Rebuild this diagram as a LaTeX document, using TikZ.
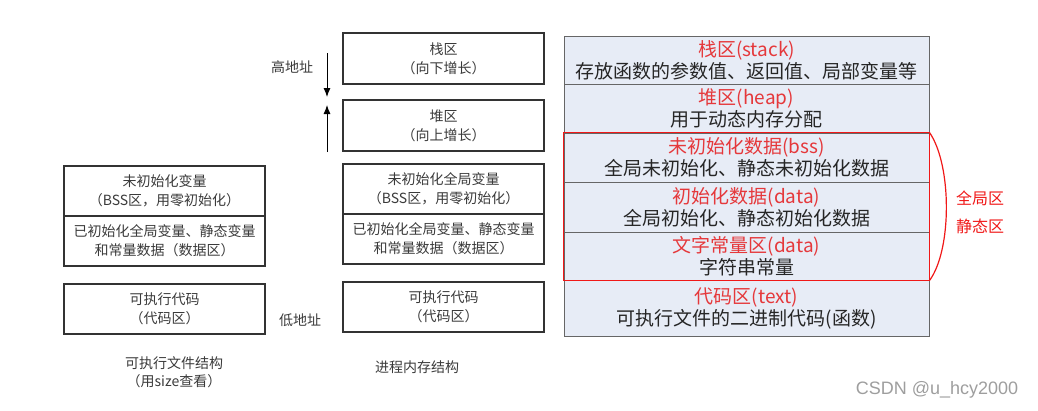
\documentclass[tikz,border=0pt]{standalone}
\usepackage{fontspec}
\setmainfont{Noto Sans CJK SC}
\newfontfamily\wmfont{Liberation Sans}
\usetikzlibrary{arrows.meta}
\definecolor{fillb}{HTML}{E7ECF6}
\definecolor{redt}{HTML}{E5383B}
\definecolor{redb}{HTML}{F01818}
\definecolor{txt}{HTML}{3A3A3A}
\tikzset{
 lbox/.style={draw=black!80, line width=1.1pt, minimum width=201pt, inner sep=0pt, align=center, text=txt, font=\fontsize{14}{19}\selectfont},
 rbox/.style={draw=black!60, line width=1pt, fill=fillb, minimum width=365pt, inner sep=0pt, align=center, font=\fontsize{19}{22}\selectfont},
 lab/.style={text=txt, font=\fontsize{14}{18}\selectfont, inner sep=0pt, align=center},
 redlab/.style={text=redb, font=\fontsize{16}{18}\selectfont, inner sep=0pt},
 growarrow/.style={black, line width=0.9pt, -{Latex[length=9pt,width=7pt]}},
}
\newcommand{\rt}[2]{\textcolor{redt}{#1}\\\textcolor{black!85}{#2}}
\begin{document}
\begin{tikzpicture}[x=1pt,y=-1pt]
\useasboundingbox (0,0) rectangle (1038,410);
% left column
\node[lbox, minimum height=50pt] (L1) at (164.5,191) {未初始化变量\\（BSS区，用零初始化）};
\node[lbox, minimum height=50pt] (L2) at (164.5,241) {已初始化全局变量、静态变量\\和常量数据（数据区）};
\node[lbox, minimum height=50pt] (L3) at (164.5,309) {可执行代码\\（代码区）};
\node[lab] (capL) at (174,372) {可执行文件结构\\（用size查看）};
% middle column
\node[lbox, minimum height=51pt] (M1) at (443.5,58.5) {栈区\\（向下增长）};
\node[lbox, minimum height=51pt] (M2) at (443.5,125.5) {堆区\\（向上增长）};
\node[lbox, minimum height=50pt] (M3) at (443.5,189) {未初始化全局变量\\（BSS区，用零初始化）};
\node[lbox, minimum height=50pt] (M4) at (443.5,239) {已初始化全局变量、静态变量\\和常量数据（数据区）};
\node[lbox, minimum height=50pt] (M5) at (443.5,307) {可执行代码\\（代码区）};
\node[lab] (capM) at (417,367) {进程内存结构};
\node[lab] (hi) at (292,67) {高地址};
\node[lab] (lo) at (300,320) {低地址};
\coordinate (a1s) at (327,53);
\coordinate (a1e) at (327,97);
\coordinate (a2s) at (327,152);
\coordinate (a2e) at (327,105);
\draw[growarrow] (a1s) -- (a1e);
\draw[growarrow] (a2s) -- (a2e);
% right column
\node[rbox, minimum height=48pt] (R1) at (746.5,60) {\rt{栈区(stack)}{存放函数的参数值、返回值、局部变量等}};
\node[rbox, minimum height=49pt] (R2) at (746.5,108.5) {\rt{堆区(heap)}{用于动态内存分配}};
\node[rbox, minimum height=49pt] (R3) at (746.5,157.5) {\rt{未初始化数据(bss)}{全局未初始化、静态未初始化数据}};
\node[rbox, minimum height=50pt] (R4) at (746.5,207) {\rt{初始化数据(data)}{全局初始化、静态初始化数据}};
\node[rbox, minimum height=48pt] (R5) at (746.5,256) {\rt{文字常量区(data)}{字符串常量}};
\node[rbox, minimum height=56pt] (R6) at (746.5,308) {\rt{代码区(text)}{可执行文件的二进制代码(函数)}};
\draw[redb, line width=1.4pt] (R3.north west) rectangle (R5.south east);
\draw[redb, line width=1.2pt] (R3.north east) .. controls (952,165) and (952,250) .. (R5.south east);
\node[redlab] (g1) at (980,198) {全局区};
\node[redlab] (g2) at (980,226) {静态区};
\node[text=black!38, font=\wmfont\fontsize{18}{20}\selectfont, inner sep=0pt] (wm) at (937,390) {CSDN @u\_hcy2000};
\end{tikzpicture}
\end{document}
